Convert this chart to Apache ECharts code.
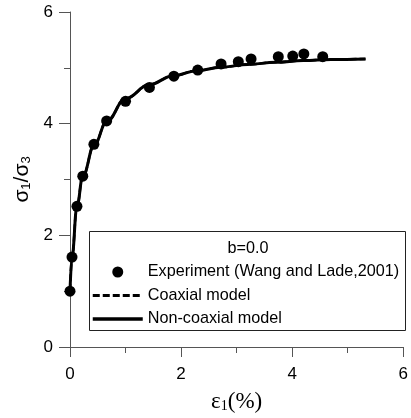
<!DOCTYPE html>
<html><head><meta charset="utf-8">
<script src="https://cdn.jsdelivr.net/npm/echarts@6/dist/echarts.min.js"></script>
<style>html,body{margin:0;padding:0;background:#fff}#c{width:411px;height:418px}</style>
</head><body><div id="c"></div>
<script>
const expX = [0, 0.036, 0.125, 0.23, 0.43, 0.66, 1.0, 1.43, 1.87, 2.3, 2.72, 3.03, 3.26, 3.75, 4.01, 4.21, 4.55];
const expY = [1.0, 1.61, 2.52, 3.06, 3.63, 4.05, 4.4, 4.65, 4.85, 4.96, 5.07, 5.11, 5.16, 5.2, 5.21, 5.25, 5.2];
const coaxX = [0, 0.036, 0.125, 0.23, 0.44, 0.66, 1.0, 1.43, 1.86, 2.29, 2.71, 3.2, 3.7, 4.2, 4.7, 5.32];
const coaxY = [1.0, 1.61, 2.52, 3.06, 3.63, 4.04, 4.45, 4.70, 4.86, 4.95, 5.01, 5.06, 5.1, 5.13, 5.15, 5.16];
const noncoaxX = [0, 0.036, 0.125, 0.23, 0.44, 0.66, 1.0, 1.43, 1.86, 2.29, 2.71, 3.2, 3.7, 4.2, 4.7, 5.32];
const noncoaxY = [1.0, 1.61, 2.52, 3.06, 3.63, 4.04, 4.45, 4.70, 4.86, 4.95, 5.01, 5.06, 5.1, 5.13, 5.15, 5.16];
const seriesNames = ['Experiment (Wang and Lade,2001)', 'Coaxial model', 'Non-coaxial model'];
const legendTitle = 'b=0.0';
const xTicks = [0, 2, 4, 6];
const yTicks = [0, 2, 4, 6];

const zip = (a, b) => a.map((v, i) => [v, b[i]]);
const chart = echarts.init(document.getElementById('c'));
const axisCol = '#555';
const font = 'Liberation Sans';
const hiddenSym = { color: 'rgba(0,0,0,0)', borderColor: 'rgba(0,0,0,0)', borderWidth: 0 };
chart.setOption({
  animation: false,
  backgroundColor: '#fff',
  grid: { left: 70, right: 6, top: 12, bottom: 70 },
  xAxis: {
    type: 'value', min: xTicks[0], max: xTicks[xTicks.length - 1], interval: 2,
    splitLine: { show: false },
    axisLine: { show: true, lineStyle: { color: axisCol, width: 1 } },
    axisTick: { show: true, inside: false, length: 10, lineStyle: { color: axisCol } },
    minorTick: { show: true, splitNumber: 2, length: 6, lineStyle: { color: axisCol } },
    axisLabel: { color: '#000', fontSize: 17, fontFamily: font, margin: 19 },
    name: '{e|ε}{s|1}{e|(%)}', nameLocation: 'middle', nameGap: 43,
    nameTextStyle: {
      rich: {
        e: { fontFamily: 'Liberation Serif', fontSize: 23, color: '#000' },
        s: { fontFamily: 'Liberation Serif', fontSize: 14, color: '#000', padding: [9, 0, 0, 0] }
      }
    }
  },
  yAxis: {
    type: 'value', min: yTicks[0], max: yTicks[yTicks.length - 1], interval: 2,
    splitLine: { show: false },
    axisLine: { show: true, lineStyle: { color: axisCol, width: 1 } },
    axisTick: { show: true, inside: false, length: 11, lineStyle: { color: axisCol } },
    minorTick: { show: true, splitNumber: 2, length: 6, lineStyle: { color: axisCol } },
    axisLabel: { color: '#000', fontSize: 17, fontFamily: font, margin: 17 },
    name: '{e|σ}{s|1}{e|/σ}{s|3}', nameLocation: 'middle', nameGap: 30,
    nameTextStyle: {
      rich: {
        e: { fontFamily: font, fontSize: 21, color: '#000' },
        s: { fontFamily: font, fontSize: 13, color: '#000', padding: [8, 0, 0, 0] }
      }
    }
  },
  legend: {
    orient: 'vertical', left: 91, top: 264, padding: 0,
    itemWidth: 50, itemHeight: 11, itemGap: 7.5,
    textStyle: { fontFamily: font, fontSize: 16.2, color: '#000', lineHeight: 16 },
    data: [
      { name: seriesNames[0], itemStyle: { color: '#000', opacity: 1 } },
      { name: seriesNames[1], itemStyle: hiddenSym, lineStyle: { color: '#000', width: 3, type: [7, 3] } },
      { name: seriesNames[2], itemStyle: hiddenSym, lineStyle: { color: '#000', width: 3.5, type: 'solid' } }
    ]
  },
  graphic: [
    { type: 'rect', shape: { x: 89.5, y: 231.5, width: 316, height: 99 }, style: { fill: '#fff', stroke: '#222', lineWidth: 1 }, z: 0 },
    { type: 'text', x: 248, y: 249, style: { text: legendTitle, font: '16.2px "Liberation Sans"', fill: '#000', align: 'center', verticalAlign: 'middle' }, z: 1 }
  ],
  series: [
    { name: seriesNames[1], type: 'line', data: zip(coaxX, coaxY), smooth: 0.4, smoothMonotone: 'x', symbol: 'none', lineStyle: { color: '#000', width: 2.5, type: [7, 3] }, itemStyle: { color: '#000' }, z: 2 },
    { name: seriesNames[2], type: 'line', data: zip(noncoaxX, noncoaxY), smooth: 0.4, smoothMonotone: 'x', symbol: 'none', lineStyle: { color: '#000', width: 3 }, itemStyle: { color: '#000' }, z: 3 },
    { name: seriesNames[0], type: 'scatter', data: zip(expX, expY), symbol: 'circle', symbolSize: 11, itemStyle: { color: '#000', opacity: 1 }, z: 4 }
  ]
});
</script></body></html>
